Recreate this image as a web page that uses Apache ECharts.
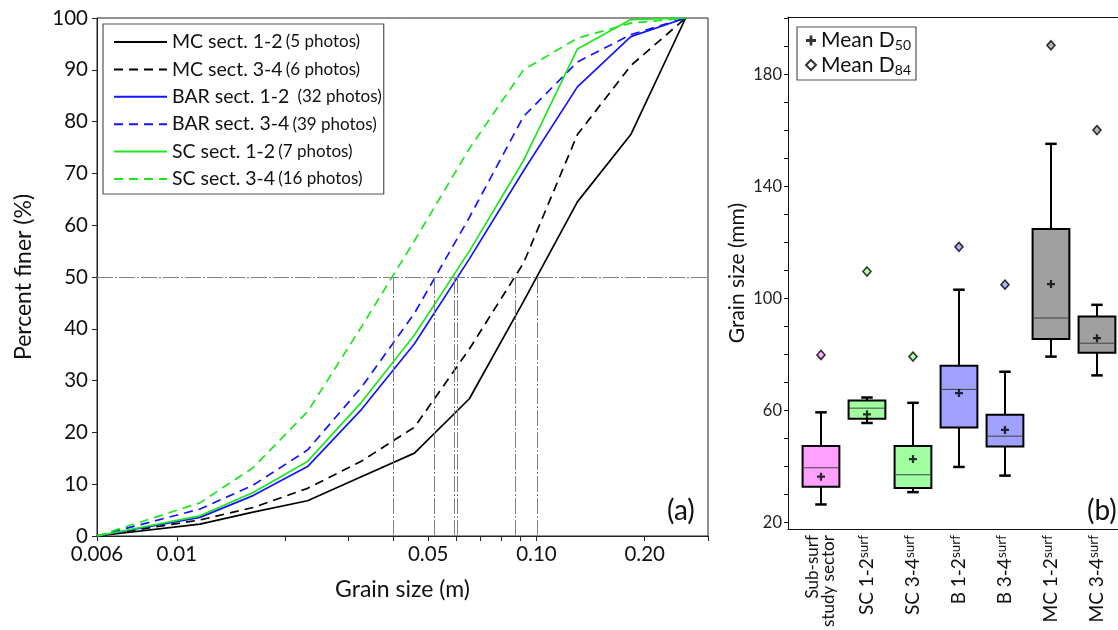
<!DOCTYPE html>
<html><head><meta charset="utf-8">
<script src="https://cdn.jsdelivr.net/npm/echarts@6/dist/echarts.min.js"></script>
<style>html,body{margin:0;padding:0;background:#fff}#c{width:1118px;height:630px}</style>
</head><body><div id="c"></div>
<script>
// ---------- Panel (a): grain size distribution curves ----------
const grainSizes = [0.006, 0.0116, 0.0163, 0.0231, 0.0327, 0.0458, 0.0651, 0.0921, 0.130, 0.183, 0.260];
const mc12  = [0, 2.3, 4.6, 6.8, 11.5, 16.0, 26.5, 45.3, 64.5, 77.5, 100];
const mc34  = [0, 3.1, 5.5, 9.2, 14.5, 21.0, 36.1, 52.7, 77.5, 90.8, 100];
const bar12 = [0, 3.6, 7.8, 13.4, 24.5, 37.1, 53.5, 70.5, 86.7, 96.4, 100];
const bar34 = [0, 5.2, 9.8, 16.6, 28.8, 43.0, 61.5, 81.0, 91.5, 96.8, 100];
const sc12  = [0, 3.9, 8.4, 14.4, 25.9, 38.8, 55.0, 72.5, 94.0, 99.7, 100];
const sc34  = [0, 6.4, 13.2, 24.0, 40.5, 57.0, 74.8, 90.0, 96.1, 99.0, 100];
const curveNames = ['MC sect. 1-2', 'MC sect. 3-4', 'BAR sect. 1-2 ', 'BAR sect. 3-4', 'SC sect. 1-2', 'SC sect. 3-4'];
const photoCounts = ['(5 photos)', '(6 photos)', '(32 photos)', '(39 photos)', '(7 photos)', '(16 photos)'];
const d50Sizes = [0.1005, 0.0874, 0.0602, 0.0521, 0.0591, 0.0399];
const d50Level = 50;
const xLabelValues = [0.006, 0.01, 0.05, 0.1, 0.2];
const xLabelTexts = ['0.006', '0.01', '0.05', '0.10', '0.20'];
const xTickValues = [0.006, 0.01, 0.02, 0.03, 0.04, 0.05, 0.06, 0.07, 0.08, 0.09, 0.1, 0.2, 0.3];

// ---------- Panel (b): box plots ----------
const boxCategories = ['Sub-surf', 'SC 1-2', 'SC 3-4', 'B 1-2', 'B 3-4', 'MC 1-2', 'MC 3-4'];
const whiskerLow  = [26.5, 55.6, 30.9, 39.9, 36.8, 79.3, 72.6];
const q1          = [32.8, 57.1, 32.4, 54.0, 47.2, 85.6, 80.7];
const medians     = [39.6, 60.9, 37.1, 67.6, 50.9, 93.1, 84.1];
const q3          = [47.4, 63.6, 47.4, 76.0, 58.5, 124.9, 93.6];
const whiskerHigh = [59.4, 64.7, 62.8, 103.2, 73.9, 155.3, 97.8];
const meanD50     = [36.4, 58.7, 42.7, 66.3, 53.1, 105.2, 85.9];
const meanD84     = [79.9, 109.7, 79.3, 118.5, 105.0, 190.5, 160.2];
const yLabelValuesB = [20, 60, 100, 140, 180];
const yTickValuesB = [20, 30, 40, 50, 60, 70, 80, 90, 100, 110, 120, 130, 140, 150, 160, 170, 180, 190, 200];

const FONT = 'Lato';
const curveData = [mc12, mc34, bar12, bar34, sc12, sc34];
const curveColors = ['#000000', '#000000', '#1414ff', '#1414ff', '#1ee61e', '#1ee61e'];
const curveDash = ['solid', [9, 6], 'solid', [9, 6], 'solid', [9, 6]];
const boxColors = ['#ffa0ff', '#a0ffa0', '#a0ffa0', '#a0a0ff', '#a0a0ff', '#a0a0a0', '#a0a0a0'];
const refLine = { color: '#808080', width: 1, type: [16, 2, 2, 2] };
const xMinB = 0.283, xMaxB = 7.457;

const lineSeries = curveData.map((vals, i) => ({
  type: 'line', name: curveNames[i], xAxisIndex: 0, yAxisIndex: 0,
  data: grainSizes.map((g, j) => [g, vals[j]]),
  symbol: 'none', z: 3,
  lineStyle: { color: curveColors[i], width: 1.7, type: curveDash[i] },
  itemStyle: { color: curveColors[i] },
  animation: false
}));

const refSeries = {
  type: 'line', name: 'ref', xAxisIndex: 0, yAxisIndex: 0, data: [], z: 1, silent: true,
  markLine: {
    silent: true, symbol: ['none', 'none'], label: { show: false }, animation: false,
    lineStyle: refLine,
    data: [[{ coord: [xTickValues[0], d50Level] }, { coord: [xTickValues[xTickValues.length - 1], d50Level] }]]
      .concat(d50Sizes.map(d => [{ coord: [d, 0] }, { coord: [d, d50Level] }]))
  }
};

const boxSeries = {
  type: 'custom', name: 'boxes', xAxisIndex: 1, yAxisIndex: 1, z: 2,
  data: boxCategories.map((c, i) => [i + 1, whiskerLow[i], q1[i], medians[i], q3[i], whiskerHigh[i]]),
  encode: { x: 0, y: [1, 2, 3, 4, 5] },
  renderItem: function (params, api) {
    const i = params.dataIndex;
    const x = api.value(0);
    const pLow = api.coord([x, api.value(1)]);
    const pQ1 = api.coord([x, api.value(2)]);
    const pMed = api.coord([x, api.value(3)]);
    const pQ3 = api.coord([x, api.value(4)]);
    const pHigh = api.coord([x, api.value(5)]);
    const bw = api.size([0.8, 0])[0];
    const cw = api.size([0.25, 0])[0];
    const cx = pQ1[0];
    const st = { stroke: '#000', lineWidth: 2 };
    return {
      type: 'group', children: [
        { type: 'line', shape: { x1: cx, y1: pHigh[1], x2: cx, y2: pQ3[1] }, style: st },
        { type: 'line', shape: { x1: cx, y1: pQ1[1], x2: cx, y2: pLow[1] }, style: st },
        { type: 'line', shape: { x1: cx - cw / 2, y1: pHigh[1], x2: cx + cw / 2, y2: pHigh[1] }, style: { stroke: '#000', lineWidth: 2.5 } },
        { type: 'line', shape: { x1: cx - cw / 2, y1: pLow[1], x2: cx + cw / 2, y2: pLow[1] }, style: { stroke: '#000', lineWidth: 2.5 } },
        { type: 'rect', shape: { x: cx - bw / 2, y: pQ3[1], width: bw, height: pQ1[1] - pQ3[1] }, style: { fill: boxColors[i], stroke: '#000', lineWidth: 2 } },
        { type: 'line', shape: { x1: cx - bw / 2 + 1, y1: pMed[1], x2: cx + bw / 2 - 1, y2: pMed[1] }, style: { stroke: '#404040', lineWidth: 1 } }
      ]
    };
  },
  animation: false
};

const plusPath = 'path://M3.6,0H6.4V3.6H10V6.4H6.4V10H3.6V6.4H0V3.6H3.6Z';
const d50Series = {
  type: 'scatter', name: 'Mean D50', xAxisIndex: 1, yAxisIndex: 1, z: 4,
  data: meanD50.map((v, i) => [i + 1, v]),
  symbol: plusPath, symbolSize: 8,
  itemStyle: { color: '#000' }, animation: false
};
const d84Series = {
  type: 'scatter', name: 'Mean D84', xAxisIndex: 1, yAxisIndex: 1, z: 4,
  data: meanD84.map((v, i) => ({ value: [i + 1, v], itemStyle: { color: boxColors[i] } })),
  symbol: 'diamond', symbolSize: [8, 9],
  itemStyle: { color: '#fff', borderColor: '#000', borderWidth: 1.6 }, animation: false
};

const catLabel = v => {
  const i = Math.round(v) - 1;
  if (i === 0) return '{t|Sub-surf}\n{t|study sector}';
  return '{m|' + boxCategories[i] + '}{s|surf}';
};

const option = {
  backgroundColor: '#fff',
  animation: false,
  textStyle: { fontFamily: FONT },
  grid: [
    { left: 97, top: 18, right: 410, bottom: 94, show: true, borderColor: '#222', borderWidth: 1, backgroundColor: 'transparent' },
    { left: 788, top: 17, right: 0, bottom: 92, show: false }
  ],
  xAxis: [
    {
      type: 'log', gridIndex: 0, min: 0.006, max: 0.3, logBase: 10,
      name: 'Grain size (m)', nameLocation: 'middle', nameGap: 42,
      nameTextStyle: { fontFamily: FONT, fontSize: 23, color: '#111' },
      axisLine: { show: true, lineStyle: { color: '#222', width: 1 } },
      axisTick: { show: true, length: 5, customValues: xTickValues, lineStyle: { color: '#222' } },
      minorTick: { show: false }, splitLine: { show: false },
      axisLabel: {
        customValues: xLabelValues, margin: 8, fontFamily: FONT, fontSize: 20.5, color: '#111',
        formatter: v => { const k = xLabelValues.findIndex(t => Math.abs(t - v) / t < 1e-6); return k >= 0 ? xLabelTexts[k] : ''; }
      }
    },
    {
      type: 'value', gridIndex: 1, min: xMinB, max: xMaxB,
      axisLine: { show: true, onZero: false, lineStyle: { color: '#111', width: 1 } },
      axisTick: { show: false }, splitLine: { show: false },
      axisLabel: {
        customValues: [1, 2, 3, 4, 5, 6, 7], rotate: 90, margin: 6, color: '#111', fontFamily: FONT,
        formatter: catLabel,
        rich: {
          t: { fontSize: 17, fontFamily: FONT, color: '#111', lineHeight: 16 },
          m: { fontSize: 19, fontFamily: FONT, color: '#111', lineHeight: 20 },
          s: { fontSize: 13.5, fontFamily: FONT, color: '#111', verticalAlign: 'top' }
        }
      }
    },
    {
      type: 'value', gridIndex: 1, position: 'top', min: xMinB, max: xMaxB,
      axisLine: { show: true, onZero: false, lineStyle: { color: '#111', width: 1 } },
      axisTick: { show: false }, axisLabel: { show: false }, splitLine: { show: false }
    }
  ],
  yAxis: [
    {
      type: 'value', gridIndex: 0, min: 0, max: 100, interval: 10,
      name: 'Percent finer (%)', nameLocation: 'middle', nameGap: 62,
      nameTextStyle: { fontFamily: FONT, fontSize: 23, color: '#111' },
      axisLine: { show: true, lineStyle: { color: '#222', width: 1 } },
      axisTick: { show: true, length: 5, lineStyle: { color: '#222' } },
      splitLine: { show: false },
      axisLabel: { fontFamily: FONT, fontSize: 20.5, color: '#111', margin: 9 }
    },
    {
      type: 'value', gridIndex: 1, min: 17.7, max: 200.6,
      name: 'Grain size (mm)', nameLocation: 'middle', nameGap: 40,
      nameTextStyle: { fontFamily: FONT, fontSize: 21, color: '#111' },
      axisLine: { show: true, onZero: false, lineStyle: { color: '#111', width: 1 } },
      axisTick: { show: true, length: 4, customValues: yTickValuesB, lineStyle: { color: '#111' } },
      splitLine: { show: false },
      axisLabel: { customValues: yLabelValuesB, fontFamily: FONT, fontSize: 16.5, color: '#222', margin: 6 }
    }
  ],
  legend: [
    {
      data: curveNames, orient: 'vertical', left: 103, top: 24,
      padding: [8, 2, 5, 10], itemGap: 7.4, itemWidth: 53, itemHeight: 12,
      backgroundColor: '#fff', borderColor: '#555', borderWidth: 1.2, borderRadius: 0,
      itemStyle: { opacity: 0 },
      formatter: name => '{a|' + name + '} {b|' + photoCounts[curveNames.indexOf(name)] + '}',
      textStyle: {
        color: '#111', fontFamily: FONT,
        rich: {
          a: { fontSize: 19.5, lineHeight: 22, fontFamily: FONT, color: '#111' },
          b: { fontSize: 17, lineHeight: 22, fontFamily: FONT, color: '#111' }
        }
      }
    },
    {
      data: ['Mean D50', 'Mean D84'], orient: 'vertical', left: 797, top: 27,
      padding: [3, 5, 3, 8], itemGap: 2, itemWidth: 10, itemHeight: 10,
      backgroundColor: '#fff', borderColor: '#555', borderWidth: 1.2, borderRadius: 0,
      formatter: name => '{a|' + name.slice(0, 6) + '}{s|' + name.slice(6) + '}',
      textStyle: {
        color: '#111', fontFamily: FONT,
        rich: {
          a: { fontSize: 21, lineHeight: 24, fontFamily: FONT, color: '#111' },
          s: { fontSize: 14, fontFamily: FONT, color: '#111', verticalAlign: 'bottom' }
        }
      }
    }
  ],
  graphic: [
    { type: 'text', left: 667, top: 497, style: { text: '(a)', font: '28px ' + FONT, fill: '#111' } },
    { type: 'text', left: 1087, top: 497, style: { text: '(b)', font: '28px ' + FONT, fill: '#111' } }
  ],
  series: [refSeries].concat(lineSeries, [boxSeries, d50Series, d84Series])
};

const chart = echarts.init(document.getElementById('c'), null, { renderer: 'canvas' });
chart.setOption(option);
</script>
</body></html>
